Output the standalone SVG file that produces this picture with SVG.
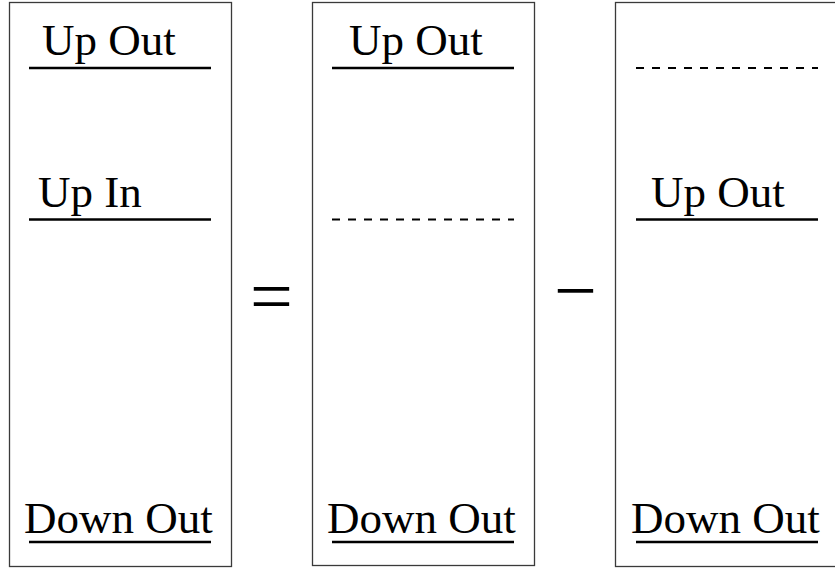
<svg xmlns="http://www.w3.org/2000/svg" width="835" height="569" viewBox="0 0 835 569">
<style>
.box{fill:#fff;stroke:#3a3a3a;stroke-width:1.3}
.lbl{font-family:"Liberation Serif","Times New Roman",serif;font-size:45px;fill:#000}
.op{font-family:"Liberation Serif","Times New Roman",serif;font-size:76px;fill:#000}
.solid{stroke:#000;stroke-width:2.3;fill:none}
.dash{stroke:#000;stroke-width:2.2;fill:none;stroke-dasharray:8 8}
</style>
<rect width="835" height="569" fill="#fff"/>
<g id="box1">
<rect class="box" x="9.5" y="2.5" width="222" height="564"/>
<text class="lbl" x="42" y="55">Up Out</text>
<text class="lbl" x="38" y="207">Up In</text>
<text class="lbl" x="24" y="533">Down Out</text>
</g>
<g id="box2">
<rect class="box" x="312.5" y="2.5" width="222" height="563"/>
<text class="lbl" x="349" y="55">Up Out</text>
<text class="lbl" x="327" y="533">Down Out</text>
</g>
<g id="box3">
<rect class="box" x="615.5" y="2.5" width="222" height="564"/>
<text class="lbl" x="651" y="207">Up Out</text>
<text class="lbl" x="631" y="533">Down Out</text>
</g>
<g id="operators">
<text class="op" x="250" y="322">=</text>
<text class="op" x="554" y="316">−</text>
</g>
<g id="connectors">
<line class="solid" x1="29" y1="68" x2="211" y2="68"/>
<line class="solid" x1="29" y1="219.5" x2="211" y2="219.5"/>
<line class="solid" x1="29" y1="542" x2="211" y2="542"/>
<line class="solid" x1="332" y1="68" x2="514" y2="68"/>
<line class="dash" x1="332" y1="219.5" x2="514" y2="219.5"/>
<line class="solid" x1="332" y1="542" x2="514" y2="542"/>
<line class="dash" x1="636" y1="68" x2="818" y2="68"/>
<line class="solid" x1="636" y1="219.5" x2="818" y2="219.5"/>
<line class="solid" x1="636" y1="542" x2="818" y2="542"/>
</g>
</svg>
